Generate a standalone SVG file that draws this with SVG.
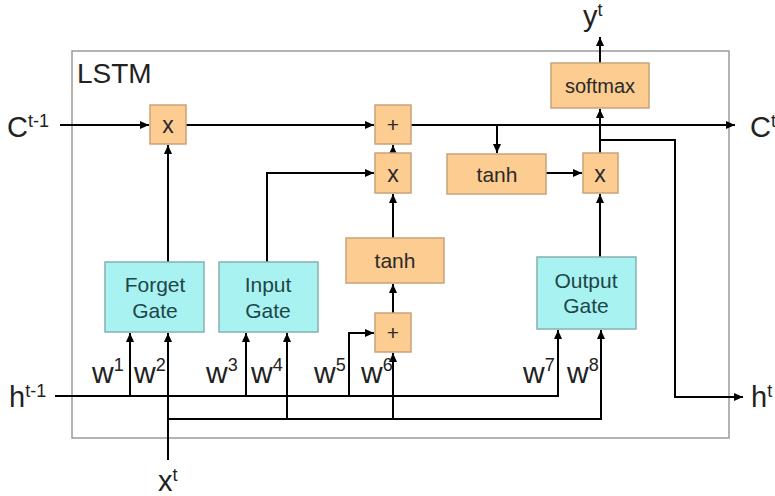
<svg xmlns="http://www.w3.org/2000/svg" width="775" height="496" viewBox="0 0 775 496">
<defs>
<marker id="ah" markerWidth="10" markerHeight="10" refX="9" refY="5" orient="auto" markerUnits="userSpaceOnUse">
<path d="M0,1 L9,5 L0,9 Z" fill="#000"/>
</marker>
<style>
.op{fill:#FCCC90;stroke:#C9A27A;stroke-width:1.5}
.gate{fill:#A8F2F2;stroke:#86B0B0;stroke-width:1.5}
.lbl{font-family:"Liberation Sans",Arial,sans-serif;fill:#222}
.big{font-size:29px}
.sup{font-size:18px}
.w{font-size:30px}
.bt{font-family:"Liberation Sans",Arial,sans-serif;fill:#2a2a2a;text-anchor:middle}
.gt{font-family:"Liberation Sans",Arial,sans-serif;fill:#1f4646;text-anchor:middle;font-size:21px}
.c{fill:none;stroke:#000;stroke-width:2}
.a{marker-end:url(#ah)}
</style>
</defs>
<rect width="775" height="496" fill="#fff"/>
<g id="lstm-frame">
<rect x="72" y="51" width="657" height="387" fill="none" stroke="#9a9a9a" stroke-width="1.5"/>
<text class="lbl" x="77" y="83" font-size="28">LSTM</text>
</g>
<g id="connectors">
<path class="c a" d="M60,125 H149"/>
<path class="c a" d="M186,125 H374"/>
<path class="c a" d="M411,125 H735"/>
<path class="c a" d="M497,125 V153"/>
<path class="c a" d="M546,173 H582"/>
<path class="c a" d="M600,153 V109"/>
<path class="c a" d="M600,63 V37"/>
<path class="c a" d="M600,140 H675 V397 H743"/>
<path class="c a" d="M600,257 V194"/>
<path class="c a" d="M168,262 V145"/>
<path class="c a" d="M267,262 V173 H374"/>
<path class="c a" d="M393,238 V194"/>
<path class="c a" d="M393,153 V145"/>
<path class="c a" d="M393,313 V284"/>
<path class="c a" d="M55,396 H558 V330"/>
<path class="c a" d="M130,396 V333"/>
<path class="c a" d="M246,396 V333"/>
<path class="c a" d="M349,396 V333 H374"/>
<path class="c a" d="M168,460 V333"/>
<path class="c a" d="M168,419 H601 V330"/>
<path class="c a" d="M287,419 V333"/>
<path class="c a" d="M393,419 V353"/>
</g>
<g id="mul-forget">
<rect class="op" x="150" y="105" width="36" height="39"/>
<text class="bt" x="168" y="133" font-size="23">x</text>
</g>
<g id="add-cell">
<rect class="op" x="375" y="105" width="36" height="39"/>
<text class="bt" x="393" y="132" font-size="21">+</text>
</g>
<g id="mul-input">
<rect class="op" x="375" y="153" width="36" height="40"/>
<text class="bt" x="393" y="182" font-size="23">x</text>
</g>
<g id="tanh-cell">
<rect class="op" x="447" y="154" width="99" height="40"/>
<text class="bt" x="497" y="182" font-size="21">tanh</text>
</g>
<g id="mul-output">
<rect class="op" x="583" y="153" width="35" height="40"/>
<text class="bt" x="600" y="182" font-size="23">x</text>
</g>
<g id="softmax">
<rect class="op" x="551" y="63" width="98" height="45"/>
<text class="bt" x="600" y="93" font-size="20">softmax</text>
</g>
<g id="tanh-input">
<rect class="op" x="346" y="238" width="98" height="45"/>
<text class="bt" x="395" y="268" font-size="21">tanh</text>
</g>
<g id="add-input">
<rect class="op" x="375" y="313" width="36" height="39"/>
<text class="bt" x="393" y="340" font-size="21">+</text>
</g>
<g id="forget-gate">
<rect class="gate" x="105" y="262" width="99" height="70"/>
<text class="gt" x="155" y="292">Forget</text>
<text class="gt" x="155" y="318">Gate</text>
</g>
<g id="input-gate">
<rect class="gate" x="219" y="262" width="99" height="70"/>
<text class="gt" x="268" y="292">Input</text>
<text class="gt" x="268" y="318">Gate</text>
</g>
<g id="output-gate">
<rect class="gate" x="537" y="257" width="99" height="72"/>
<text class="gt" x="586" y="288">Output</text>
<text class="gt" x="586" y="313">Gate</text>
</g>
<g id="labels">
<text class="lbl big" x="7" y="137">C<tspan class="sup" dy="-10">t-1</tspan></text>
<text class="lbl big" x="750" y="137">C<tspan class="sup" dy="-10">t</tspan></text>
<text class="lbl big" x="9" y="407">h<tspan class="sup" dy="-10">t-1</tspan></text>
<text class="lbl big" x="751" y="407">h<tspan class="sup" dy="-10">t</tspan></text>
<text class="lbl big" x="583" y="26">y<tspan class="sup" dy="-10">t</tspan></text>
<text class="lbl big" x="158" y="491">x<tspan class="sup" dy="-10">t</tspan></text>
<text class="lbl w" x="92" y="383">w<tspan class="sup" dy="-12">1</tspan></text>
<text class="lbl w" x="134" y="383">w<tspan class="sup" dy="-12">2</tspan></text>
<text class="lbl w" x="206" y="383">w<tspan class="sup" dy="-12">3</tspan></text>
<text class="lbl w" x="251" y="383">w<tspan class="sup" dy="-12">4</tspan></text>
<text class="lbl w" x="314" y="383">w<tspan class="sup" dy="-12">5</tspan></text>
<text class="lbl w" x="361" y="383">w<tspan class="sup" dy="-12">6</tspan></text>
<text class="lbl w" x="523" y="383">w<tspan class="sup" dy="-12">7</tspan></text>
<text class="lbl w" x="567" y="383">w<tspan class="sup" dy="-12">8</tspan></text>
</g>
</svg>
